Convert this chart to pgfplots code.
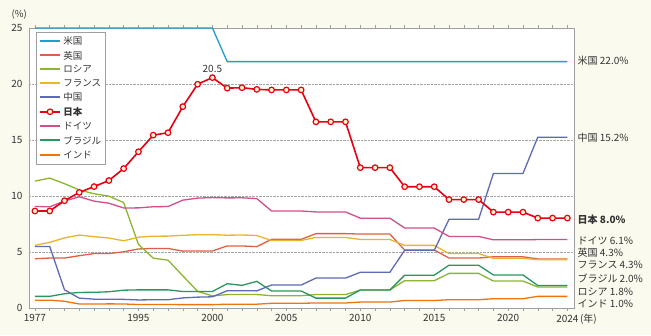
\documentclass[border=0pt]{standalone}
\usepackage{pgfplots}
\usepackage{pgfplotstable}
\pgfplotsset{compat=1.18}
\usepackage{fontspec}
\setmainfont{Noto Sans CJK JP}
\definecolor{bgc}{HTML}{FBFAEE}
\definecolor{framegray}{HTML}{A0A0A0}
\definecolor{txt}{HTML}{333333}
\definecolor{cus}{HTML}{1FA0CC}
\definecolor{cuk}{HTML}{E06045}
\definecolor{cru}{HTML}{8CB62E}
\definecolor{cfr}{HTML}{E9B52C}
\definecolor{ccn}{HTML}{5E6BB5}
\definecolor{cjp}{HTML}{E60012}
\definecolor{cjpfill}{HTML}{FFF6D5}
\definecolor{cde}{HTML}{D24F8A}
\definecolor{cbr}{HTML}{2A9660}
\definecolor{cin}{HTML}{EE7410}

\pgfplotstableread{
x  us  uk    ru     fr    cn     jp     de    br    in
0  25  4.40  11.33  5.60  5.50   8.66   9.07  1.04  0.70
1  25  4.46  11.60  5.86  5.50   8.66   9.03  1.04  0.70
2  25  4.46  11.10  6.26  1.62   9.58   9.55  1.27  0.60
3  25  4.67  10.54  6.51  0.88   10.32  9.93  1.39  0.36
4  25  4.86  10.20  6.37  0.79   10.84  9.54  1.40  0.35
5  25  4.86  9.99   6.25  0.79   11.38  9.36  1.45  0.37
6  25  5.02  9.41   6.00  0.77   12.45  8.93  1.59  0.36
7  25  5.27  5.68   6.32  0.72   13.95  8.94  1.62  0.31
8  25  5.32  4.45   6.41  0.735  15.435 9.04  1.62  0.31
9  25  5.32  4.27   6.42  0.74   15.65  9.06  1.62  0.31
10 25  5.08  2.87   6.49  0.90   17.98  9.63  1.47  0.30
11 25  5.09  1.49   6.54  0.97   19.98  9.81  1.47  0.30
12 25  5.09  1.08   6.55  1.00   20.57  9.86  1.47  0.30
13 22  5.54  1.20   6.50  1.54   19.63  9.83  2.17  0.34
14 22  5.54  1.20   6.52  1.55   19.67  9.84  2.02  0.34
15 22  5.48  1.20   6.47  1.53   19.52  9.77  2.38  0.34
16 22  6.13  1.10   6.03  2.05   19.47  8.66  1.52  0.42
17 22  6.13  1.10   6.03  2.05   19.47  8.66  1.52  0.42
18 22  6.13  1.10   6.03  2.05   19.47  8.66  1.52  0.42
19 22  6.64  1.20   6.30  2.67   16.62  8.58  0.88  0.45
20 22  6.64  1.20   6.30  2.67   16.62  8.58  0.88  0.45
21 22  6.64  1.20   6.30  2.67   16.62  8.58  0.88  0.45
22 22  6.60  1.60   6.12  3.19   12.53  8.02  1.61  0.53
23 22  6.60  1.60   6.12  3.19   12.53  8.02  1.61  0.53
24 22  6.60  1.60   6.12  3.19   12.53  8.02  1.61  0.53
25 22  5.18  2.44   5.59  5.15   10.83  7.14  2.93  0.67
26 22  5.18  2.44   5.59  5.15   10.83  7.14  2.93  0.67
27 22  5.18  2.44   5.59  5.15   10.83  7.14  2.93  0.67
28 22  4.46  3.09   4.86  7.92   9.68   6.39  3.82  0.74
29 22  4.46  3.09   4.86  7.92   9.68   6.39  3.82  0.74
30 22  4.46  3.09   4.86  7.92   9.68   6.39  3.82  0.74
31 22  4.57  2.41   4.43  12.01  8.56   6.09  2.95  0.83
32 22  4.57  2.41   4.43  12.01  8.56   6.09  2.95  0.83
33 22  4.57  2.41   4.43  12.01  8.56   6.09  2.95  0.83
34 22  4.38  1.87   4.32  15.25  8.03   6.11  2.01  1.04
35 22  4.38  1.87   4.32  15.25  8.03   6.11  2.01  1.04
36 22  4.38  1.87   4.32  15.25  8.03   6.11  2.01  1.04
}\data

\begin{document}
\begin{tikzpicture}[font=\fontsize{9.5}{11}\selectfont]
\fill[bgc] (-29pt,-27pt) rectangle (622pt,308pt);
\begin{axis}[
  scale only axis, width=545pt, height=280pt,
  xmin=-0.4, xmax=36.45, ymin=0, ymax=25,
  clip=false,
  axis background/.style={fill=white},
  axis line style={draw=framegray, line width=0.8pt},
  xtick={0,7,12,17,22,27,32,36},
  xticklabels={1977,1995,2000,2005,2010,2015,2020,2024\rlap{\,(年)}},
  minor xtick={0,...,36},
  ytick={0,5,...,25},
  tick align=outside,
  major tick length=3pt, minor tick length=3pt,
  xtick style={draw=framegray, line width=0.5pt},
  minor x tick style={draw=framegray, line width=0.5pt},
  ytick style={draw=none},
  ymajorgrids,
  grid style={densely dotted, draw=gray!70, line width=0.6pt},
  tick label style={text=txt, font=\fontsize{10}{12}\selectfont},
  /pgf/number format/assume math mode=true,
  legend style={at={(0.013,0.986)}, anchor=north west, draw=framegray, fill=white,
    font=\fontsize{9.5}{11}\selectfont, text=txt, row sep=1pt, inner sep=2.5pt},
  legend cell align=left,
  legend image code/.code={\draw[line width=2pt, mark repeat=2,mark phase=2] plot coordinates {(0cm,0.5pt) (0.36cm,0.5pt) (0.72cm,0.5pt)};},
]
\addplot[cus, line width=1.3pt, no marks] table[x=x, y=us] {\data}; \addlegendentry{米国}
\addplot[cuk, line width=1.3pt, no marks] table[x=x, y=uk] {\data}; \addlegendentry{英国}
\addplot[cru, line width=1.3pt, no marks] table[x=x, y=ru] {\data}; \addlegendentry{ロシア}
\addplot[cfr, line width=1.3pt, no marks] table[x=x, y=fr] {\data}; \addlegendentry{フランス}
\addplot[ccn, line width=1.3pt, no marks] table[x=x, y=cn] {\data}; \addlegendentry{中国}
\addlegendimage{cjp, line width=1.6pt, mark=*, mark size=2.8pt, mark options={fill=cjpfill, draw=cjp, line width=1.2pt}}
\addlegendentry{\textbf{日本}}
\addplot[cde, line width=1.3pt, no marks] table[x=x, y=de] {\data}; \addlegendentry{ドイツ}
\addplot[cbr, line width=1.3pt, no marks] table[x=x, y=br] {\data}; \addlegendentry{ブラジル}
\addplot[cin, line width=1.3pt, no marks] table[x=x, y=in] {\data}; \addlegendentry{インド}
\addplot[cjp, line width=1.6pt, mark=*, mark size=2.8pt, mark options={fill=cjpfill, draw=cjp, line width=1.2pt}, forget plot] table[x=x, y=jp] {\data};

\node[text=txt, above, yshift=1.5pt, font=\fontsize{10}{12}\selectfont] at (axis cs:12,20.57) {20.5};
\node[text=txt, font=\fontsize{9.5}{11}\selectfont] at (axis description cs:-0.018,1.047) {(\%)};

\begin{scope}[every node/.style={anchor=west, text=txt, font=\fontsize{10}{12}\selectfont, inner sep=0pt}]
\node at (axis cs:36.45,22.08) [xshift=3.5pt] {米国 22.0\%};
\node at (axis cs:36.45,15.23) [xshift=3.5pt] {中国 15.2\%};
\node at (axis cs:36.45,7.88) [xshift=3.5pt] {\textbf{日本 8.0\%}};
\node at (axis cs:36.45,6.04) [xshift=3.5pt] {ドイツ 6.1\%};
\node at (axis cs:36.45,4.95) [xshift=3.5pt] {英国 4.3\%};
\node at (axis cs:36.45,3.8) [xshift=3.5pt] {フランス 4.3\%};
\node at (axis cs:36.45,2.6) [xshift=3.5pt] {ブラジル 2.0\%};
\node at (axis cs:36.45,1.47) [xshift=3.5pt] {ロシア 1.8\%};
\node at (axis cs:36.45,0.38) [xshift=3.5pt] {インド 1.0\%};
\end{scope}
\end{axis}
\end{tikzpicture}
\end{document}
